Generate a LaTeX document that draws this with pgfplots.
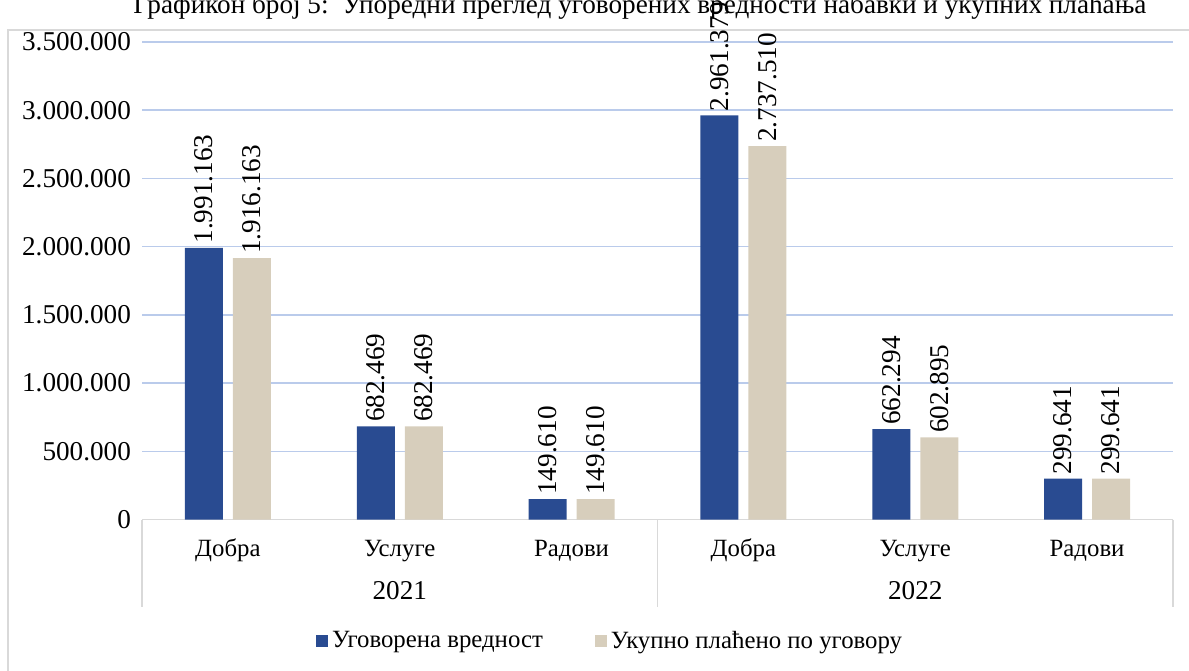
\documentclass[border=0pt]{standalone}
\usepackage{pgfplots}
\pgfplotsset{compat=1.18}
\usepackage{fontspec}
\setmainfont{Liberation Serif}
\definecolor{bblue}{RGB}{41,75,145}
\definecolor{bbeige}{RGB}{215,206,188}
\definecolor{gridc}{RGB}{186,203,235}
\definecolor{axc}{RGB}{217,217,217}
\newcommand{\numf}{\fontsize{13.6}{15}\selectfont}
\newcommand{\cyrf}{\fontsize{12.4}{15}\selectfont}
\begin{document}
\begin{tikzpicture}[x=1pt,y=1pt]
\useasboundingbox (0,0) rectangle (594.5,335);
\clip (0,0) rectangle (594.5,335);
\draw[axc, line width=0.75pt] (4,320) rectangle (600,-5);
\node[anchor=base, inner sep=0pt, font=\fontsize{13.6}{15}\selectfont] at (320,328) {Графикон број 5:\ \ Упоредни преглед уговорених вредности набавки и укупних плаћања};
\begin{axis}[
  at={(71pt,75.25pt)}, anchor=south west,
  scale only axis, width=515.5pt, height=238.75pt,
  xmin=-0.5, xmax=5.5, ymin=0, ymax=3500000,
  ybar=5pt, bar width=19pt,
  axis lines*=left,
  y axis line style={draw=none},
  x axis line style={axc, line width=0.75pt},
  tick style={draw=none},
  ymajorgrids, grid style={gridc, line width=0.75pt},
  ytick={0,500000,1000000,1500000,2000000,2500000,3000000,3500000},
  yticklabels={0,500.000,1.000.000,1.500.000,2.000.000,2.500.000,3.000.000,3.500.000},
  yticklabel style={anchor=east, xshift=-2pt, font=\numf},
  xtick={0,1,2,3,4,5},
  xticklabels={Добра,Услуге,Радови,Добра,Услуге,Радови},
  xticklabel style={anchor=base, yshift=-14pt, font=\cyrf},
  scaled y ticks=false,
  point meta=explicit symbolic,
  nodes near coords,
  every node near coord/.append style={rotate=90, anchor=west, inner sep=2pt, font=\numf, black},
  legend style={at={(0.455,-0.2545)}, anchor=center, draw=none, fill=none, legend columns=2,
    /tikz/every even column/.append style={column sep=24pt}, font=\cyrf},
  legend image code/.code={\fill[#1] (0pt,-3pt) rectangle (6pt,3pt);},
  clip=false,
]
\addplot[fill=bblue, draw=none] coordinates {
 (0,1991163) [1.991.163]
 (1,682469) [682.469]
 (2,149610) [149.610]
 (3,2961379) [2.961.379]
 (4,662294) [662.294]
 (5,299641) [299.641]
};
\addplot[fill=bbeige, draw=none] coordinates {
 (0,1916163) [1.916.163]
 (1,682469) [682.469]
 (2,149610) [149.610]
 (3,2737510) [2.737.510]
 (4,602895) [602.895]
 (5,299641) [299.641]
};
\legend{Уговорена вредност, Укупно плаћено по уговору}
\draw[axc, line width=0.75pt] (rel axis cs:0,0) -- ([yshift=-43.5pt]rel axis cs:0,0);
\draw[axc, line width=0.75pt] (axis cs:2.5,0) -- ([yshift=-43.5pt]axis cs:2.5,0);
\draw[axc, line width=0.75pt] (rel axis cs:1,0) -- ([yshift=-43.5pt]rel axis cs:1,0);
\node[anchor=base, font=\numf] at ([yshift=-40pt]axis cs:1,0) {2021};
\node[anchor=base, font=\numf] at ([yshift=-40pt]axis cs:4,0) {2022};
\end{axis}
\end{tikzpicture}
\end{document}
